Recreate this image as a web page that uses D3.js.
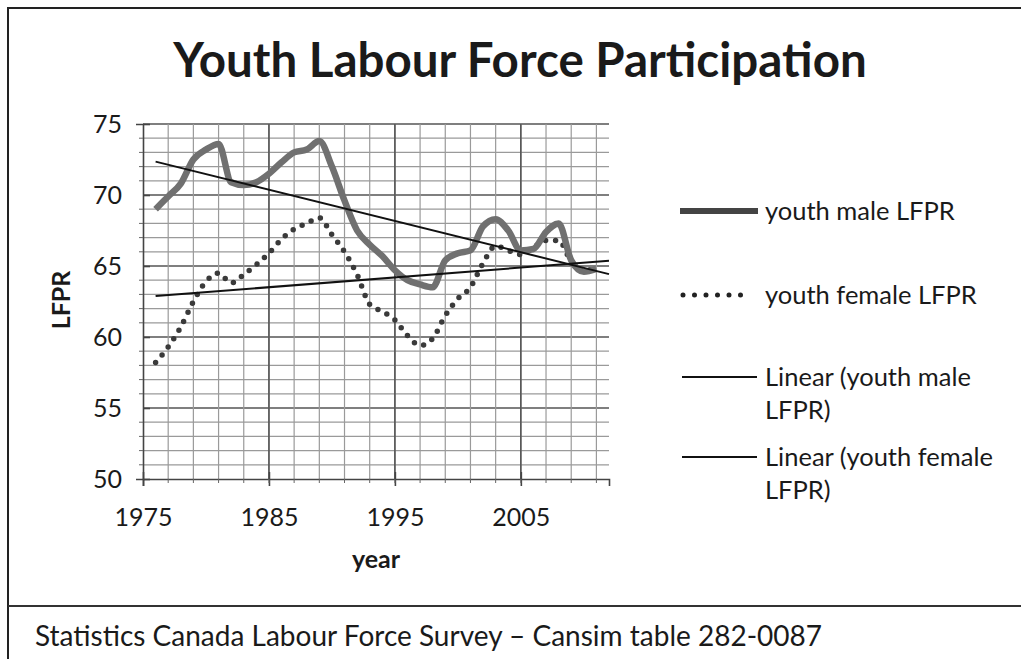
<!DOCTYPE html>
<html>
<head>
<meta charset="utf-8">
<script src="https://cdn.jsdelivr.net/npm/d3@7"></script>
<style>
  body { margin: 0; background: #fff; }
  svg text { font-family: Lato, "Open Sans", sans-serif; fill: #1a1a1a; }
</style>
</head>
<body>
<svg id="chart" width="1021" height="659"></svg>
<script>
// values
const years = d3.range(1976, 2012);
const maleLFPR = [69.0, 69.9, 70.8, 72.5, 73.2, 73.6, 70.9, 70.7, 70.9, 71.5, 72.3, 73.0,
  73.2, 73.8, 72.0, 69.6, 67.5, 66.5, 65.7, 64.7, 64.0, 63.7, 63.5, 65.4,
  65.9, 66.1, 67.8, 68.3, 67.5, 66.1, 66.2, 67.4, 68.0, 65.4, 64.6, 64.8];
const femaleLFPR = [58.2, 59.3, 60.7, 62.5, 63.9, 64.5, 63.8, 64.4, 65.1, 65.9, 66.9, 67.6,
  68.0, 68.4, 67.2, 66.0, 64.4, 62.3, 61.8, 61.2, 60.1, 59.4, 59.9, 61.5,
  62.7, 63.5, 65.2, 66.4, 66.1, 65.8, 66.3, 66.8, 66.8, 65.3, 64.7, 64.8];
const xTicks = [1975, 1985, 1995, 2005];
const yTicks = [50, 55, 60, 65, 70, 75];
const legendLabels = [["youth male LFPR"], ["youth female LFPR"],
  ["Linear (youth male", "LFPR)"], ["Linear (youth female", "LFPR)"]];

const svg = d3.select("#chart");
const x = d3.scaleLinear().domain([1975, 2012]).range([143, 609]);
const y = d3.scaleLinear().domain([50, 75]).range([479, 124]);

// frame
svg.append("path").attr("d", "M8,659V8H1021").attr("fill", "none").attr("stroke", "#222").attr("stroke-width", 2);
svg.append("line").attr("x1", 8).attr("x2", 1021).attr("y1", 606).attr("y2", 606)
  .attr("stroke", "#333").attr("stroke-width", 2);

svg.append("text").attr("x", 520).attr("y", 77).attr("text-anchor", "middle")
  .attr("font-size", 47.5).attr("font-weight", "bold").text("Youth Labour Force Participation");

// grid
const grid = svg.append("g");
grid.selectAll(".hy").data(d3.range(51, 76)).join("line")
  .attr("x1", x(1975)).attr("x2", x(2012)).attr("y1", d => y(d)).attr("y2", d => y(d))
  .attr("stroke", d => d % 5 === 0 ? "#555" : "#9a9a9a").attr("stroke-width", d => d % 5 === 0 ? 1.6 : 1.2);
grid.selectAll(".vx").data(d3.range(1977, 2012, 2)).join("line")
  .attr("x1", d => x(d)).attr("x2", d => x(d)).attr("y1", y(50)).attr("y2", y(75))
  .attr("stroke", "#9a9a9a").attr("stroke-width", 1.2);
grid.selectAll(".vm").data([1985, 1995, 2005]).join("line")
  .attr("x1", d => x(d)).attr("x2", d => x(d)).attr("y1", y(50)).attr("y2", y(75))
  .attr("stroke", "#555").attr("stroke-width", 1.6);

// axes
const yAxis = svg.append("g").attr("transform", `translate(${x(1975)},0)`)
  .call(d3.axisLeft(y).tickValues(yTicks).tickSize(7).tickPadding(14));
const xAxis = svg.append("g").attr("transform", `translate(0,${y(50)})`)
  .call(d3.axisBottom(x).tickValues(xTicks).tickFormat(d3.format("d")).tickSize(7).tickPadding(22));
[yAxis, xAxis].forEach(a => {
  a.select(".domain").attr("stroke", "#444").attr("stroke-width", 1.6);
  a.selectAll(".tick line").attr("stroke", "#444").attr("stroke-width", 1.6);
  a.selectAll("text").attr("font-size", 25).attr("fill", "#1a1a1a").attr("font-family", "Lato");
});
xAxis.selectAll(".tick line").attr("y1", -7);
yAxis.selectAll(".tick line").attr("x2", 7);
svg.append("g").selectAll("line").data(d3.range(51, 75).filter(d => d % 5)).join("line")
  .attr("x1", x(1975) - 4).attr("x2", x(1975)).attr("y1", d => y(d)).attr("y2", d => y(d))
  .attr("stroke", "#666");
svg.append("g").selectAll("line").data(d3.range(1977, 2012, 2)).join("line")
  .attr("x1", d => x(d)).attr("x2", d => x(d)).attr("y1", y(50)).attr("y2", y(50) + 4)
  .attr("stroke", "#666");

svg.append("text").attr("transform", "translate(70,300) rotate(-90)").attr("text-anchor", "middle")
  .attr("font-size", 25).attr("font-weight", "bold").text("LFPR");
svg.append("text").attr("x", 376).attr("y", 568).attr("text-anchor", "middle")
  .attr("font-size", 25).attr("font-weight", "bold").text("year");

// linear trendlines (least squares)
function fit(vals) {
  const mx = d3.mean(years), my = d3.mean(vals);
  const b = d3.sum(years, (t, i) => (t - mx) * (vals[i] - my)) / d3.sum(years, t => (t - mx) ** 2);
  return t => my + b * (t - mx);
}
const line = d3.line().x(d => x(d[0])).y(d => y(d[1])).curve(d3.curveMonotoneX);
const maleFit = fit(maleLFPR), femaleFit = fit(femaleLFPR);

svg.append("path").datum(years.map((t, i) => [t, femaleLFPR[i]]))
  .attr("d", line).attr("fill", "none")
  .attr("stroke", "#3a3a3a").attr("stroke-width", 5.5).attr("stroke-linecap", "round")
  .attr("stroke-dasharray", "0 10");
svg.append("path").datum(years.map((t, i) => [t, maleLFPR[i]]))
  .attr("d", line).attr("fill", "none")
  .attr("stroke", "#707070").attr("stroke-width", 6.5).attr("stroke-linejoin", "round");

const trendLine = d3.line().x(d => x(d[0])).y(d => y(d[1]));
[maleFit, femaleFit].forEach(f => {
  svg.append("path").datum([[1976, f(1976)], [2012, f(2012)]])
    .attr("d", trendLine).attr("stroke", "#111").attr("stroke-width", 2).attr("fill", "none");
});

// legend
const lg = svg.append("g");
const rows = [211, 295, 377, 457];
lg.append("line").attr("x1", 680).attr("x2", 758).attr("y1", rows[0]).attr("y2", rows[0])
  .attr("stroke", "#444").attr("stroke-width", 6);
lg.append("line").attr("x1", 683).attr("x2", 750).attr("y1", rows[1]).attr("y2", rows[1])
  .attr("stroke", "#222").attr("stroke-width", 5).attr("stroke-linecap", "round").attr("stroke-dasharray", "0 11.5");
lg.append("line").attr("x1", 682).attr("x2", 757).attr("y1", rows[2]).attr("y2", rows[2])
  .attr("stroke", "#111").attr("stroke-width", 1.8);
lg.append("line").attr("x1", 682).attr("x2", 757).attr("y1", rows[3]).attr("y2", rows[3])
  .attr("stroke", "#111").attr("stroke-width", 1.8);
legendLabels.forEach((lines, i) => {
  const t = lg.append("text").attr("x", 765).attr("y", rows[i] + 9).attr("font-size", 25.5);
  lines.forEach((s, j) => t.append("tspan").attr("x", 765).attr("dy", j ? 33 : 0).text(s));
});

svg.append("text").attr("x", 35).attr("y", 646).attr("font-size", 28)
  .text("Statistics Canada Labour Force Survey \u2013 Cansim table 282-0087");
</script>
</body>
</html>
